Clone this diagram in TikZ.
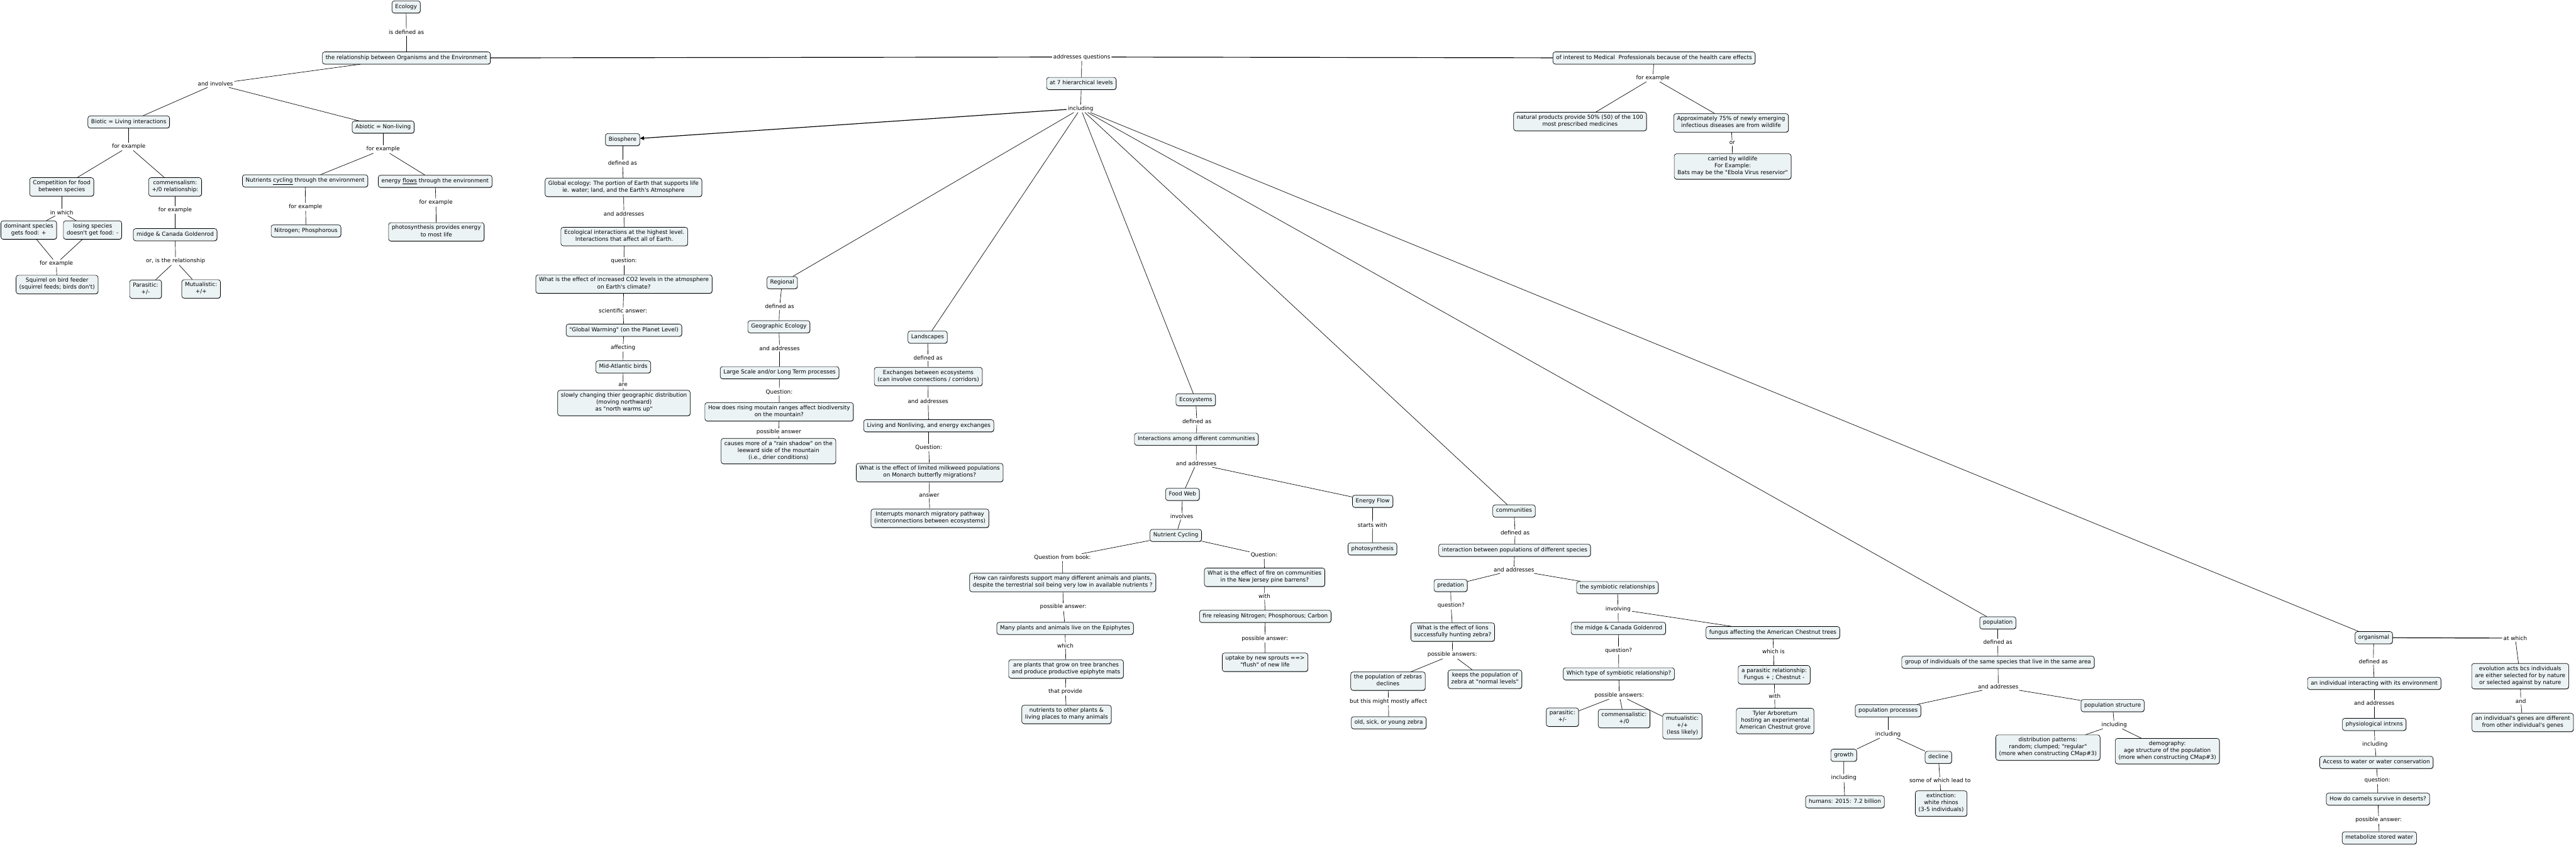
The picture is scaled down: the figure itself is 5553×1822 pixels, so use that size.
\documentclass[tikz,border=0pt]{standalone}
\usepackage{fontspec}
\newfontfamily\mapfont{DejaVu Sans}
\usetikzlibrary{arrows.meta,shadows}
\definecolor{nodefill}{RGB}{236,243,245}
\begin{document}
\begin{tikzpicture}[x=1pt,y=-1pt,
  cn/.style={draw=black, line width=0.9pt, rounded corners=5pt, fill=nodefill, align=center,
    inner xsep=7pt, inner ysep=5.6pt, font=\mapfont\fontsize{12}{15}\selectfont,
    execute at begin node=\strut, execute at end node=\strut,
    drop shadow={shadow xshift=0.7pt, shadow yshift=-1pt, fill=black, opacity=0.6}},
  lb/.style={inner sep=2.5pt, align=center, font=\mapfont\fontsize{12}{15}\selectfont},
  cl/.style={line width=0.9pt},
  tl/.style={line width=1.6pt}]
\fill[white] (0,0) rectangle (5553,1822);
\useasboundingbox (0,0) rectangle (5553,1822);

% ---------- top ----------
\node[cn] (eco) at (875.5,15) {Ecology};
\node[lb] (lisdef) at (876,70) {is defined as};
\node[cn] (rel) at (876,125) {the relationship between Organisms and the Environment};
\node[lb] (laddq) at (2332,123) {addresses questions};
\node[cn] (lev7) at (2331,180) {at 7 hierarchical levels};
\node[lb] (lincl) at (2329.5,234) {including};
\node[cn] (interest) at (3565.5,125) {of interest to Medical~ Professionals because of the health care effects};
\node[lb] (lfemed) at (3563,168) {for example};
\node[cn] (natprod) at (3406,262) {natural products provide 50\% (50) of the 100\\most prescribed medicines};
\node[cn] (approx) at (3731.6,265) {Approximately 75\% of newly emerging\\infectious diseases are from wildlife};
\node[lb] (lor) at (3734,308) {or};
\node[cn] (carried) at (3735,359) {carried by wildlife\\For Example:\\Bats may be the "Ebola Virus reservior"};

% ---------- left cluster ----------
\node[lb] (linv) at (464.5,181) {and involves};
\node[cn] (biotic) at (277.5,263) {Biotic = Living interactions};
\node[cn] (abiotic) at (826,274) {Abiotic = Non-living};
\node[lb] (lfebio) at (277.5,316) {for example};
\node[lb] (lfeabio) at (826,322) {for example};
\node[cn] (compet) at (133,403) {Competition for food\\between species};
\node[cn] (commens) at (377.5,403) {commensalism:\\+/0 relationship:};
\node[cn] (nutcyc) at (657.7,390) {Nutrients \underline{cycling} through the environment};
\node[cn] (enflow) at (938,391) {energy \underline{flows} through the environment};
\node[lb] (linwhich) at (133,458) {in which};
\node[lb] (lfecomm) at (377.6,453) {for example};
\node[lb] (lfenut) at (658.7,446) {for example};
\node[lb] (lfeen) at (939.7,437) {for example};
\node[cn] (dominant) at (62,496) {dominant species\\gets food: +};
\node[cn] (losing) at (199.5,496) {losing species\\doesn't get food: -};
\node[cn] (midgeA) at (377.6,506) {midge \& Canada Goldenrod};
\node[cn] (nitro) at (659.6,498) {Nitrogen; Phosphorous};
\node[cn] (photoA) at (940.6,500) {photosynthesis provides energy\\to most life};
\node[lb] (lfesq) at (121.5,568) {for example};
\node[lb] (loris) at (378.5,563) {or, is the relationship};
\node[cn] (squirrel) at (123,613.5) {Squirrel on bird feeder\\(squirrel feeds; birds don't)};
\node[cn] (parasA) at (313.8,623.5) {Parasitic:\\+/-};
\node[cn] (mutualA) at (433.5,623) {Mutualistic:\\+/+};

% ---------- biosphere ----------
\node[cn] (biosph) at (1342,301) {Biosphere};
\node[lb] (lbdef) at (1342,352) {defined as};
\node[cn] (global) at (1344,404) {Global ecology: The portion of Earth that supports life\\ie. water; land, and the Earth's Atmosphere};
\node[lb] (lbaddr) at (1345,461) {and addresses};
\node[cn] (ecoint) at (1345.7,510) {Ecological interactions at the highest level.\\Interactions that affect all of Earth.};
\node[lb] (lbq) at (1345,563) {question:};
\node[cn] (co2) at (1345,612.5) {What is the effect of increased CO2 levels in the atmosphere\\on Earth's climate?};
\node[lb] (lbsci) at (1343,670) {scientific answer:};
\node[cn] (gw) at (1345,712) {"Global Warming" (on the Planet Level)};
\node[lb] (lbaff) at (1343,750) {affecting};
\node[cn] (birds) at (1343.5,791) {Mid-Atlantic birds};
\node[lb] (lbare) at (1343,830) {are};
\node[cn] (slowly) at (1345,869) {slowly changing thier geographic distribution\\(moving northward)\\as "north warms up"};

% ---------- regional ----------
\node[cn] (regional) at (1686,609.5) {Regional};
\node[lb] (lrdef) at (1680.5,661) {defined as};
\node[cn] (geo) at (1679,704.6) {Geographic Ecology};
\node[lb] (lraddr) at (1680.5,751) {and addresses};
\node[cn] (large) at (1680.5,803.6) {Large Scale and/or Long Term processes};
\node[lb] (lrq) at (1679.7,845) {Question:};
\node[cn] (rising) at (1679.5,888) {How does rising moutain ranges affect biodiversity\\on the mountain?};
\node[lb] (lrpa) at (1679,932) {possible answer};
\node[cn] (rain) at (1678,972.7) {causes more of a "rain shadow" on the\\leeward side of the mountain\\(i.e., drier conditions)};

% ---------- landscapes ----------
\node[cn] (land) at (1999.5,727) {Landscapes};
\node[lb] (lldef) at (2000.6,771) {defined as};
\node[cn] (exch) at (2001,812) {Exchanges between ecosystems\\(can involve connections / corridors)};
\node[lb] (lladdr) at (2000.6,865) {and addresses};
\node[cn] (living) at (2002,918) {Living and Nonliving, and energy exchanges};
\node[lb] (llq) at (2002,965) {Question:};
\node[cn] (milkweed) at (2004,1019) {What is the effect of limited milkweed populations\\on Monarch butterfly migrations?};
\node[lb] (llans) at (2003,1068) {answer};
\node[cn] (interrupt) at (2004.6,1117.6) {Interrupts monarch migratory pathway\\(interconnections between ecosystems)};

% ---------- ecosystems ----------
\node[cn] (ecosys) at (2577.6,862) {Ecosystems};
\node[lb] (ledef) at (2580,909) {defined as};
\node[cn] (among) at (2579,947) {Interactions among different communities};
\node[lb] (leaddr) at (2578.6,1000) {and addresses};
\node[cn] (foodweb) at (2549,1066) {Food Web};
\node[lb] (leinv) at (2547.5,1113) {involves};
\node[cn] (nutcycB) at (2534.6,1154.5) {Nutrient Cycling};
\node[lb] (leqbook) at (2290.5,1202) {Question from book:};
\node[lb] (leq) at (2725,1197) {Question:};
\node[cn] (rainf) at (2290.8,1256) {How can rainforests support many different animals and plants,\\despite the terrestrial soil being very low in available nutrients ?};
\node[lb] (lepa) at (2292,1309) {possible answer:};
\node[cn] (epiph) at (2296,1355) {Many plants and animals live on the Epiphytes};
\node[lb] (lewhich) at (2296.6,1392) {which};
\node[cn] (arepl) at (2298,1442.6) {are plants that grow on tree branches\\and produce productive epiphyte mats};
\node[lb] (letp) at (2296.6,1491) {that provide};
\node[cn] (nutrients) at (2299,1540.6) {nutrients to other plants \&\\living places to many animals};
\node[cn] (fire) at (2726,1244.7) {What is the effect of fire on communities\\in the New Jersey pine barrens?};
\node[lb] (lewith) at (2725.7,1286) {with};
\node[cn] (firerel) at (2727.5,1329) {fire releasing Nitrogen; Phosphorous; Carbon};
\node[lb] (lepb) at (2726.6,1377) {possible answer:};
\node[cn] (uptake) at (2727,1428) {uptake by new sprouts ==>\\"flush" of new life};
\node[cn] (enflowB) at (2959,1081) {Energy Flow};
\node[lb] (lesw) at (2958.6,1132) {starts with};
\node[cn] (photosyn) at (2958.5,1183.6) {photosynthesis};

% ---------- communities ----------
\node[cn] (comm) at (3263.7,1101.8) {communities};
\node[lb] (lcdef) at (3266,1149) {defined as};
\node[cn] (interpop) at (3265,1186.6) {interaction between populations of different species};
\node[lb] (lcaddr) at (3263.6,1229) {and addresses};
\node[cn] (pred) at (3127,1262.6) {predation};
\node[cn] (symb) at (3486.6,1267) {the symbiotic relationships};
\node[lb] (lcqa) at (3128,1306) {question?};
\node[lb] (lcinv) at (3488,1313.5) {involving};
\node[cn] (lions) at (3131.6,1363) {What is the effect of lions\\successfully hunting zebra?};
\node[cn] (midgeB) at (3488.6,1355) {the midge \& Canada Goldenrod};
\node[cn] (fungus) at (3821.6,1364) {fungus affecting the American Chestnut trees};
\node[lb] (lcpas) at (3130.6,1412) {possible answers:};
\node[lb] (lcqb) at (3489,1402.6) {question?};
\node[lb] (lcwis) at (3823,1404.6) {which is};
\node[cn] (zdecl) at (2992,1468.7) {the population of zebras\\declines};
\node[cn] (keeps) at (3201,1464.7) {keeps the population of\\zebra at "normal levels"};
\node[cn] (whichtype) at (3489.6,1453) {Which type of symbiotic relationship?};
\node[cn] (parrel) at (3824.5,1455) {a parasitic relationship:\\Fungus + ; Chestnut -};
\node[lb] (lcbut) at (2993,1512.7) {but this might mostly affect};
\node[lb] (lcpasb) at (3490.5,1499) {possible answers:};
\node[lb] (lcwith) at (3825.6,1501) {with};
\node[cn] (oldsick) at (2993.6,1558.5) {old, sick, or young zebra};
\node[cn] (parasB) at (3368,1546.5) {parasitic:\\+/-};
\node[cn] (commensB) at (3501,1549.5) {commensalistic:\\+/0};
\node[cn] (mutualB) at (3626.6,1565.7) {mutualistic:\\+/+\\(less likely)};
\node[cn] (tyler) at (3826.5,1554.7) {Tyler Arboretum\\hosting an experimental\\American Chestnut grove};

% ---------- population ----------
\node[cn] (pop) at (4306.6,1343) {population};
\node[lb] (lpdef) at (4306.6,1385) {defined as};
\node[cn] (group) at (4307,1428) {group of individuals of the same species that live in the same area};
\node[lb] (lpaddr) at (4307.5,1481) {and addresses};
\node[cn] (popproc) at (4070,1532.6) {population processes};
\node[cn] (popstruct) at (4554,1521.5) {population structure};
\node[lb] (lpinca) at (4070,1583) {including};
\node[lb] (lpincb) at (4557.5,1563) {including};
\node[cn] (growth) at (3974.5,1628.5) {growth};
\node[cn] (decline) at (4178.5,1633) {decline};
\node[lb] (lpincc) at (3974.6,1677.6) {including};
\node[lb] (lpsome) at (4182,1683) {some of which lead to};
\node[cn] (humans) at (3977,1729) {humans: 2015: 7.2 billion};
\node[cn] (extinct) at (4184.5,1732.6) {extinction:\\white rhinos\\(3-5 individuals)};
\node[cn] (distrib) at (4414.6,1612) {distribution patterns:\\random; clumped; "regular"\\(more when constructing CMap\#3)};
\node[cn] (demog) at (4672,1619.7) {demography:\\age structure of the population\\(more when constructing CMap\#3)};

% ---------- organismal ----------
\node[cn] (org) at (5117,1375) {organismal};
\node[lb] (loat) at (5422,1376) {at which};
\node[lb] (lodef) at (5116,1426) {defined as};
\node[cn] (indiv) at (5118,1473.6) {an individual interacting with its environment};
\node[lb] (loaddr) at (5118,1516) {and addresses};
\node[cn] (physio) at (5118,1562) {physiological intrxns};
\node[lb] (loinc) at (5119.5,1605) {including};
\node[cn] (access) at (5122.7,1644) {Access to water or water conservation};
\node[lb] (loq) at (5125,1683) {question:};
\node[cn] (camels) at (5126,1723) {How do camels survive in deserts?};
\node[lb] (lopa) at (5127.5,1768) {possible answer:};
\node[cn] (metab) at (5129,1806.7) {metabolize stored water};
\node[cn] (evol) at (5432.6,1458) {evolution acts bcs individuals\\are either selected for by nature\\or selected against by nature};
\node[lb] (loand) at (5434,1512) {and};
\node[cn] (genes) at (5438,1557.7) {an individual's genes are different\\from other individual's genes};

% ---------- connectors ----------
\draw[tl] (rel) -- (laddq);
\draw[tl] (laddq) -- (interest);
\draw[tl] (org) -- (loat);
\draw[tl,-{Triangle[length=9pt,width=8pt]}] (lincl) -- (biosph);

\foreach \a/\b in {eco/lisdef, lisdef/rel, laddq/lev7, lev7/lincl,
  lincl/regional, lincl/land, lincl/ecosys, lincl/comm, lincl/pop, lincl/org,
  interest/lfemed, lfemed/natprod, lfemed/approx, approx/lor, lor/carried,
  rel/linv, linv/biotic, linv/abiotic,
  biotic/lfebio, lfebio/compet, lfebio/commens,
  abiotic/lfeabio, lfeabio/nutcyc, lfeabio/enflow,
  compet/linwhich, linwhich/dominant, linwhich/losing,
  dominant/lfesq, losing/lfesq, lfesq/squirrel,
  commens/lfecomm, lfecomm/midgeA, midgeA/loris, loris/parasA, loris/mutualA,
  nutcyc/lfenut, lfenut/nitro, enflow/lfeen, lfeen/photoA,
  biosph/lbdef, lbdef/global, global/lbaddr, lbaddr/ecoint, ecoint/lbq, lbq/co2,
  co2/lbsci, lbsci/gw, gw/lbaff, lbaff/birds, birds/lbare, lbare/slowly,
  regional/lrdef, lrdef/geo, geo/lraddr, lraddr/large, large/lrq, lrq/rising, rising/lrpa, lrpa/rain,
  land/lldef, lldef/exch, exch/lladdr, lladdr/living, living/llq, llq/milkweed, milkweed/llans, llans/interrupt,
  ecosys/ledef, ledef/among, among/leaddr, leaddr/foodweb, leaddr/enflowB,
  foodweb/leinv, leinv/nutcycB, nutcycB/leqbook, nutcycB/leq,
  leqbook/rainf, rainf/lepa, lepa/epiph, epiph/lewhich, lewhich/arepl, arepl/letp, letp/nutrients,
  leq/fire, fire/lewith, lewith/firerel, firerel/lepb, lepb/uptake,
  enflowB/lesw, lesw/photosyn,
  comm/lcdef, lcdef/interpop, interpop/lcaddr, lcaddr/pred, lcaddr/symb,
  pred/lcqa, lcqa/lions, lions/lcpas, lcpas/zdecl, lcpas/keeps, zdecl/lcbut, lcbut/oldsick,
  symb/lcinv, lcinv/midgeB, lcinv/fungus, midgeB/lcqb, lcqb/whichtype, whichtype/lcpasb,
  lcpasb/parasB, lcpasb/commensB, lcpasb/mutualB,
  fungus/lcwis, lcwis/parrel, parrel/lcwith, lcwith/tyler,
  pop/lpdef, lpdef/group, group/lpaddr, lpaddr/popproc, lpaddr/popstruct,
  popproc/lpinca, lpinca/growth, lpinca/decline, growth/lpincc, lpincc/humans,
  decline/lpsome, lpsome/extinct, popstruct/lpincb, lpincb/distrib, lpincb/demog,
  org/lodef, lodef/indiv, indiv/loaddr, loaddr/physio, physio/loinc, loinc/access,
  access/loq, loq/camels, camels/lopa, lopa/metab,
  loat/evol, evol/loand, loand/genes}
  \draw[cl] (\a) -- (\b);
\end{tikzpicture}
\end{document}
